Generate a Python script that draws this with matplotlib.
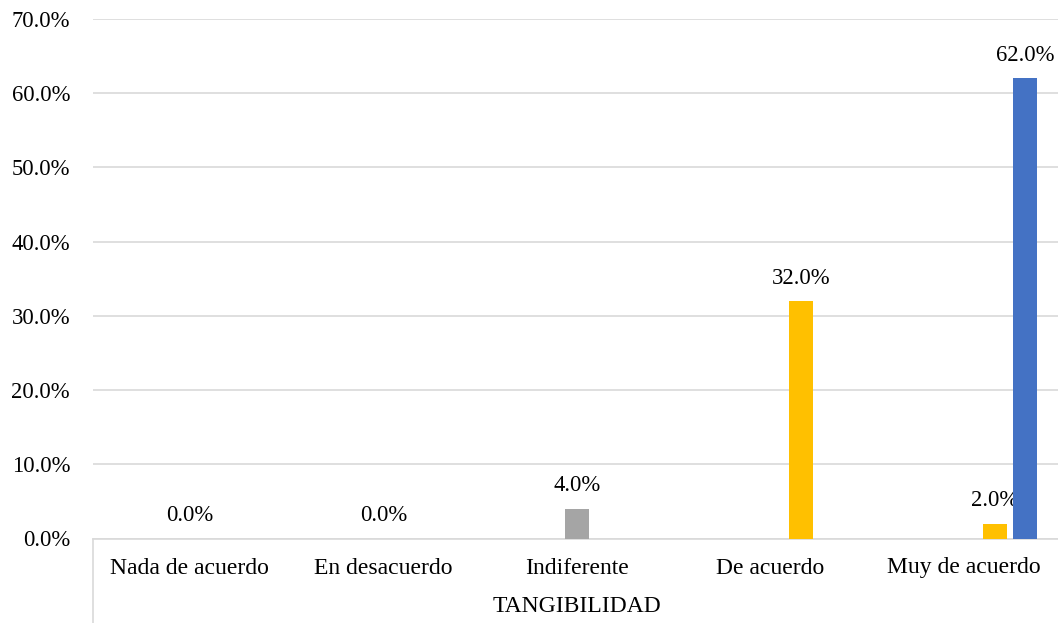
import numpy as np
import matplotlib
matplotlib.use("Agg")
import matplotlib.pyplot as plt

categories = ["Nada de acuerdo", "En desacuerdo", "Indiferente", "De acuerdo", "Muy de acuerdo"]
group_label = "TANGIBILIDAD"
y_ticks = [0, 10, 20, 30, 40, 50, 60, 70]

# percentages per response series (nan = no bar in that category)
indiferente = [0.0, 0.0, 4.0, np.nan, np.nan]
de_acuerdo = [np.nan, np.nan, np.nan, 32.0, 2.0]
muy_de_acuerdo = [np.nan, np.nan, np.nan, np.nan, 62.0]

plt.rcParams["font.family"] = ["Liberation Serif", "DejaVu Serif"]
FS = 16.3
FS_CAT = 17
GRID = "#D9D9D9"

W, H = 1058, 623
fig = plt.figure(figsize=(W / 100, H / 100), dpi=100)
ax = fig.add_axes([93 / W, (H - 538.5) / H, 965 / W, 519.5 / H])

x = np.arange(len(categories))
slot = 0.1575
width = 0.1224

series = [
    (indiferente, 0, "#A5A5A5"),
    (de_acuerdo, 1, "#FFC000"),
    (muy_de_acuerdo, 2, "#4472C4"),
]
for vals, k, color in series:
    vals = np.array(vals, dtype=float)
    ok = ~np.isnan(vals)
    bars = ax.bar(x[ok] + k * slot, vals[ok], width, color=color, zorder=3)
    for b, v in zip(bars, vals[ok]):
        ax.annotate(f"{v:.1f}%", (b.get_x() + b.get_width() / 2, v),
                    xytext=(0, 12.5), textcoords="offset points",
                    ha="center", va="baseline", fontsize=FS, color="#000000")

ax.set_xlim(-0.5, 4.5 - 3 / 193.6)
ax.set_ylim(0, 70)
ax.set_yticks(y_ticks)
ax.set_yticklabels([f"{t:.1f}%" for t in y_ticks], fontsize=FS)
ax.tick_params(axis="y", length=0, pad=16.5)
ax.set_xticks([])
ax.grid(axis="y", color=GRID, linewidth=1.2, zorder=0)

for s in ["top", "right", "left"]:
    ax.spines[s].set_visible(False)
ax.spines["bottom"].set_color(GRID)
ax.spines["bottom"].set_linewidth(1.2)

# two-level category axis below the plot
xt = ax.get_xaxis_transform()
for i, c in enumerate(categories):
    ax.text(i, -(568 - 538.5) / 519.5, c, transform=xt, ha="center", va="center", fontsize=FS_CAT)
ax.text(2, -(607 - 538.5) / 519.5, group_label, transform=xt, ha="center", va="center", fontsize=FS_CAT)
ax.plot([0, 0], [0, -(H - 538.5) / 519.5], transform=ax.transAxes, color=GRID,
        linewidth=1.2, clip_on=False)

fig.savefig("out.png", dpi=100, facecolor="white")
